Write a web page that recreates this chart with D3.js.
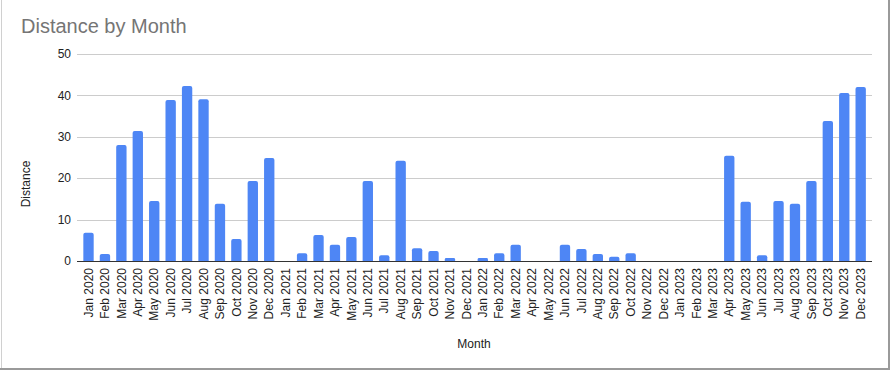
<!DOCTYPE html>
<html>
<head>
<meta charset="utf-8">
<script src="https://cdn.jsdelivr.net/npm/d3@7"></script>
<style>
  body { margin: 0; background: #fff; }
  svg { display: block; font-family: Arial, "Liberation Sans", sans-serif; }
</style>
</head>
<body>
<svg width="891" height="372"></svg>
<script>
const months = ['Jan 2020','Feb 2020','Mar 2020','Apr 2020','May 2020','Jun 2020','Jul 2020','Aug 2020','Sep 2020','Oct 2020','Nov 2020','Dec 2020',
  'Jan 2021','Feb 2021','Mar 2021','Apr 2021','May 2021','Jun 2021','Jul 2021','Aug 2021','Sep 2021','Oct 2021','Nov 2021','Dec 2021',
  'Jan 2022','Feb 2022','Mar 2022','Apr 2022','May 2022','Jun 2022','Jul 2022','Aug 2022','Sep 2022','Oct 2022','Nov 2022','Dec 2022',
  'Jan 2023','Feb 2023','Mar 2023','Apr 2023','May 2023','Jun 2023','Jul 2023','Aug 2023','Sep 2023','Oct 2023','Nov 2023','Dec 2023']

const distance = [6.8, 1.7, 28.0, 31.4, 14.5, 38.9, 42.3, 39.1, 13.8, 5.3, 19.3, 24.9,
  0, 1.9, 6.3, 3.9, 5.8, 19.3, 1.4, 24.2, 3.1, 2.4, 0.7, 0,
  0.7, 1.9, 3.9, 0, 0, 3.9, 2.9, 1.7, 1.0, 1.9, 0, 0,
  0, 0, 0, 25.4, 14.3, 1.4, 14.5, 13.8, 19.3, 33.8, 40.6, 42.0]

const y_ticks = [0, 10, 20, 30, 40, 50]

const svg = d3.select('svg')
const width = 891, height = 372

const plot = {left: 77, right: 872, top: 54, bottom: 261}

// frame edges as seen in the screenshot
svg.append('line').attr('x1', 1.5).attr('x2', 1.5).attr('y1', 0).attr('y2', 369)
  .attr('stroke', '#d0d0d0')
svg.append('line').attr('x1', 889).attr('x2', 889).attr('y1', 0).attr('y2', 370)
  .attr('stroke', '#9a9a9a').attr('stroke-width', 2)
svg.append('line').attr('x1', 0).attr('x2', 890).attr('y1', 369).attr('y2', 369)
  .attr('stroke', '#9a9a9a').attr('stroke-width', 2)

const x_scale = d3.scaleBand()
  .domain(months)
  .range([80.3, 868.9])
  .paddingInner(0.37)
  .paddingOuter(0.185)

const y_scale = d3.scaleLinear()
  .domain([0, 50])
  .range([plot.bottom, plot.top])

// gridlines
svg.append('g').selectAll('line').data(y_ticks.filter(d => d > 0))
  .enter().append('line')
  .attr('x1', plot.left).attr('x2', plot.right)
  .attr('y1', d => Math.round(y_scale(d)) + 0.5)
  .attr('y2', d => Math.round(y_scale(d)) + 0.5)
  .attr('stroke', '#cccccc')

// y tick labels
svg.append('g').selectAll('text').data(y_ticks)
  .enter().append('text')
  .attr('x', 71)
  .attr('y', d => y_scale(d))
  .attr('dy', '0.35em')
  .attr('text-anchor', 'end')
  .attr('font-size', 12)
  .attr('fill', '#222')
  .text(d => d)

// bars with slightly rounded tops
const r = 2
const bar_path = d => {
  const x0 = x_scale(d.m), w = x_scale.bandwidth()
  const y0 = y_scale(d.v), yb = y_scale(0)
  const rr = Math.min(r, (yb - y0) / 2)
  return `M${x0},${yb}V${y0 + rr}Q${x0},${y0} ${x0 + rr},${y0}H${x0 + w - rr}Q${x0 + w},${y0} ${x0 + w},${y0 + rr}V${yb}Z`
}

svg.append('g').selectAll('path')
  .data(months.map((m, i) => ({m: m, v: distance[i]})).filter(d => d.v > 0))
  .enter().append('path')
  .attr('d', bar_path)
  .attr('fill', '#4e86f5')

// baseline
svg.append('line')
  .attr('x1', plot.left).attr('x2', plot.right)
  .attr('y1', plot.bottom + 0.5).attr('y2', plot.bottom + 0.5)
  .attr('stroke', '#333')

// x tick labels
svg.append('g').selectAll('text').data(months)
  .enter().append('text')
  .attr('transform', d => `translate(${x_scale(d) + x_scale.bandwidth() / 2},268) rotate(-90)`)
  .attr('dy', '0.35em')
  .attr('text-anchor', 'end')
  .attr('font-size', 12)
  .attr('fill', '#222')
  .text(d => d)

// title
svg.append('text')
  .attr('x', 21).attr('y', 33)
  .attr('font-size', 20)
  .attr('fill', '#757575')
  .text('Distance by Month')

// axis titles
svg.append('text')
  .attr('transform', 'translate(30,184) rotate(-90)')
  .attr('text-anchor', 'middle')
  .attr('font-size', 12)
  .attr('fill', '#222')
  .text('Distance')

svg.append('text')
  .attr('x', 474).attr('y', 347.5)
  .attr('text-anchor', 'middle')
  .attr('font-size', 12)
  .attr('fill', '#222')
  .text('Month')
</script>
</body>
</html>
